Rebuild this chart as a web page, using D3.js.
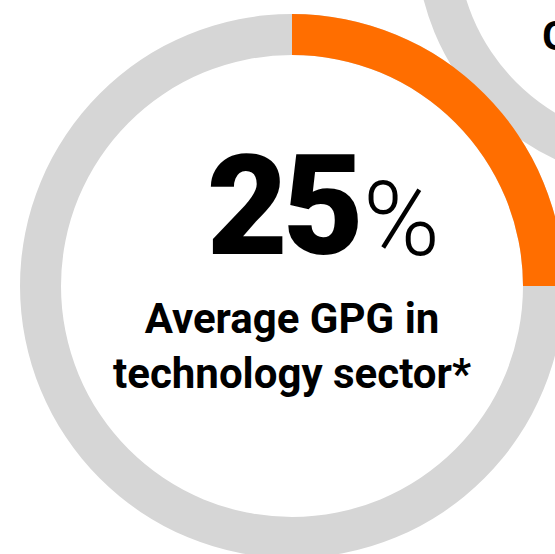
<!DOCTYPE html>
<html>
<head>
<meta charset="utf-8">
<script src="https://cdn.jsdelivr.net/npm/d3@7"></script>
<style>
  body { margin: 0; background: #fff; }
  svg { display: block; }
</style>
</head>
<body>
<div id="chart"></div>
<script>

// Data
const mainValue = [25];
const mainLabel = ['Average GPG in', 'technology sector*'];
const sideLabel = ['GPG in'];

// Page Dimensions
const width = 555;
const height = 554;

// Colours
const trackColor = '#d6d6d6';
const valueColor = '#ff6e00';
const textColor = '#000000';
const font_family = 'Roboto, "DejaVu Sans", sans-serif';

const svg = d3.select('div#chart').append('svg')
  .attr('width', width)
  .attr('height', height);

const angle = d3.scaleLinear().domain([0, 100]).range([0, 2 * Math.PI]);

// Second ring, cut off at the top right
const side = svg.append('g')
  .attr('transform', 'translate(660,-61)');

side.append('path')
  .attr('d', d3.arc()
    .innerRadius(203)
    .outerRadius(244)
    .startAngle(angle(0))
    .endAngle(angle(100))())
  .style('fill', trackColor);

side.append('text')
  .text(sideLabel[0])
  .attr('x', -118)
  .attr('y', 111)
  .attr('font-family', font_family)
  .attr('font-weight', 700)
  .attr('font-size', 40)
  .attr('fill', textColor);

// Main ring
const ring = d3.arc()
  .innerRadius(231)
  .outerRadius(272);

const main = svg.append('g')
  .attr('transform', 'translate(292,286)');

main.append('path')
  .attr('d', ring.startAngle(angle(0)).endAngle(angle(100))())
  .style('fill', trackColor);

main.append('path')
  .attr('d', ring.startAngle(angle(0)).endAngle(angle(mainValue[0]))())
  .style('fill', valueColor);

// Big number
main.append('text')
  .text(mainValue[0])
  .attr('x', 67)
  .attr('y', -32)
  .attr('text-anchor', 'end')
  .attr('font-family', font_family)
  .attr('font-weight', 900)
  .attr('font-size', 140)
  .attr('letter-spacing', -5)
  .attr('fill', textColor);

main.append('text')
  .text('%')
  .attr('x', 71)
  .attr('y', -31)
  .attr('font-family', font_family)
  .attr('font-weight', 300)
  .attr('font-size', 104)
  .attr('fill', textColor);

// Caption
main.selectAll('text.caption')
  .data(mainLabel)
  .enter()
  .append('text')
  .attr('class', 'caption')
  .text(d => d)
  .attr('x', 0)
  .attr('y', (d, i) => 47 + i * 55)
  .attr('text-anchor', 'middle')
  .attr('font-family', font_family)
  .attr('font-weight', 700)
  .attr('font-size', 42)
  .attr('fill', textColor);

</script>
</body>
</html>
